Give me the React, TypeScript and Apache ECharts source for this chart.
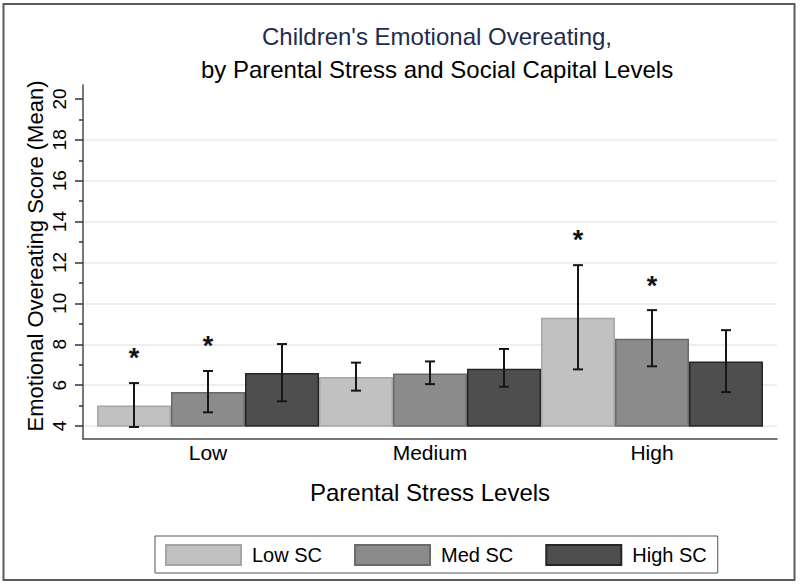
import React, { useEffect, useRef } from "react";
import * as echarts from "echarts";

const categories = ["Low", "Medium", "High"];
const seriesNames = ["Low SC", "Med SC", "High SC"];
const lowSCMean = [5.0, 6.4, 9.3];
const lowSCLower = [3.95, 5.73, 6.77];
const lowSCUpper = [6.1, 7.1, 11.87];
const medSCMean = [5.66, 6.57, 8.27];
const medSCLower = [4.67, 6.05, 6.92];
const medSCUpper = [6.69, 7.16, 9.67];
const highSCMean = [6.59, 6.8, 7.15];
const highSCLower = [5.21, 5.92, 5.66];
const highSCUpper = [8.01, 7.77, 8.69];
const lowSCStar = [7.5, null, 13.3];
const medSCStar = [8.1, null, 11.06];
const highSCStar = [null, null, null];
const yTicks = [4, 6, 8, 10, 12, 14, 16, 18, 20];

const FONT = "'Liberation Sans', Arial, Helvetica, sans-serif";
const fills = ["#c1c1c1", "#8b8b8b", "#4e4e4e"];
const borders = ["#a6a6a6", "#6a6a6a", "#262626"];

export default function App() {
  const ref = useRef<HTMLDivElement>(null);
  useEffect(() => {
    if (!ref.current) return;
    const chart = echarts.init(ref.current, null, { renderer: "svg" });
    const means = [lowSCMean, medSCMean, highSCMean];
    const lowers = [lowSCLower, medSCLower, highSCLower];
    const uppers = [lowSCUpper, medSCUpper, highSCUpper];
    const stars = [lowSCStar, medSCStar, highSCStar];

    const barSeries = seriesNames.map((name, i) => ({
      name,
      type: "bar",
      xAxisIndex: 1,
      yAxisIndex: 1,
      data: means[i],
      barGap: "0%",
      barCategoryGap: "0%",
      itemStyle: { color: fills[i], borderColor: borders[i], borderWidth: 1.5 },
      z: 3,
    }));

    const errSeries = seriesNames.map((name, i) => ({
      name: name + " CI",
      type: "custom",
      xAxisIndex: 1,
      yAxisIndex: 1,
      z: 5,
      encode: { x: 0, y: [1, 2] },
      data: categories.map((_, c) => [c, lowers[i][c], uppers[i][c], stars[i][c] == null ? NaN : stars[i][c]]),
      renderItem: (params: any, api: any) => {
        const cat = api.value(0);
        const lo = api.value(1);
        const hi = api.value(2);
        const st = api.value(3);
        const band = api.size([1, 0])[0];
        const off = ((i - 1) * band) / 3;
        const pLo = api.coord([cat, lo]);
        const pHi = api.coord([cat, hi]);
        const x = pLo[0] + off;
        const style = { stroke: "#161616", lineWidth: 2 };
        const cw = 5;
        const children: any[] = [
          { type: "line", shape: { x1: x, y1: pLo[1], x2: x, y2: pHi[1] }, style },
          { type: "line", shape: { x1: x - cw, y1: pHi[1], x2: x + cw, y2: pHi[1] }, style },
          { type: "line", shape: { x1: x - cw, y1: pLo[1], x2: x + cw, y2: pLo[1] }, style },
        ];
        if (!isNaN(st)) {
          const ps = api.coord([cat, st]);
          children.push({
            type: "text",
            x: x,
            y: ps[1] + 4,
            style: {
              text: "*",
              fontSize: 27,
              fontWeight: "bold",
              fontFamily: FONT,
              fill: "#111",
              align: "center",
              verticalAlign: "middle",
            },
          });
        }
        return { type: "group", children };
      },
    }));

    const option: any = {
      animation: false,
      backgroundColor: "#ffffff",
      textStyle: { fontFamily: FONT },
      title: [
        {
          text: "Children's Emotional Overeating,",
          left: 432,
          top: 19,
          textAlign: "center",
          textStyle: { color: "#1d2c4e", fontSize: 24, fontWeight: "normal", fontFamily: FONT },
        },
        {
          text: "by Parental Stress and Social Capital Levels",
          left: 432,
          top: 52,
          textAlign: "center",
          textStyle: { color: "#000", fontSize: 24, fontWeight: "normal", fontFamily: FONT },
        },
      ],
      legend: {
        data: seriesNames,
        left: 155,
        top: 536,
        orient: "horizontal",
        itemWidth: 75,
        itemHeight: 20,
        itemGap: 32,
        padding: [8, 11, 7, 10],
        borderColor: "#555",
        borderWidth: 1,
        icon: "rect",
        textStyle: { fontSize: 20, color: "#000", fontFamily: FONT, padding: [0, 0, 0, 6] },
      },
      grid: [
        { left: 83, right: 23, top: 85, bottom: 146 },
        { left: 97, right: 37, top: 99, bottom: 159 },
        { left: 83, right: 23, top: 99, bottom: 159 },
      ],
      xAxis: [
        {
          gridIndex: 0,
          type: "value",
          min: 0,
          max: 1,
          axisLine: { show: true, lineStyle: { color: "#4a4a4a", width: 1.5 } },
          axisTick: { show: false },
          axisLabel: { show: false },
          splitLine: { show: false },
        },
        {
          gridIndex: 1,
          type: "category",
          data: categories,
          axisLine: { show: false },
          axisTick: { show: false },
          axisLabel: { fontSize: 21, color: "#000", margin: 16, fontFamily: FONT },
          name: "Parental Stress Levels",
          nameLocation: "middle",
          nameGap: 54,
          nameTextStyle: { fontSize: 24, color: "#000", fontFamily: FONT },
        },
        { gridIndex: 2, type: "value", min: 0, max: 1, show: false },
      ],
      yAxis: [
        {
          gridIndex: 0,
          type: "value",
          min: 0,
          max: 1,
          axisLine: { show: true, lineStyle: { color: "#4a4a4a", width: 1.5 } },
          axisTick: { show: false },
          axisLabel: { show: false },
          splitLine: { show: false },
          name: "Emotional Overeating Score (Mean)",
          nameLocation: "middle",
          nameGap: 37,
          nameTextStyle: { fontSize: 22, color: "#000", fontFamily: FONT, padding: [0, 0, 0, 12] },
        },
        {
          gridIndex: 1,
          type: "value",
          min: yTicks[0],
          max: yTicks[yTicks.length - 1],
          interval: 2,
          offset: 14,
          axisLine: { show: false },
          axisTick: { show: true, length: 8, lineStyle: { color: "#333", width: 1.5 } },
          minorTick: { show: true, splitNumber: 2, length: 4, lineStyle: { color: "#333", width: 1.5 } },
          axisLabel: { rotate: 90, fontSize: 19, color: "#000", margin: 14, fontFamily: FONT },
          splitLine: { show: false },
        },
        {
          gridIndex: 2,
          type: "value",
          min: yTicks[0],
          max: yTicks[yTicks.length - 1],
          interval: 2,
          axisLine: { show: false },
          axisTick: { show: false },
          axisLabel: { show: false },
          splitLine: { show: true, showMaxLine: false, lineStyle: { color: "#e4eaee", width: 1.5 } },
        },
      ],
      graphic: [
        {
          type: "rect",
          shape: { x: 3.5, y: 4, width: 791, height: 576 },
          style: { fill: "none", stroke: "#5a5a5a", lineWidth: 2 },
          silent: true,
          z: -1,
        },
      ],
      series: [...barSeries, ...errSeries],
    };
    chart.setOption(option);
    return () => chart.dispose();
  }, []);
  return <div ref={ref} style={{ width: 800, height: 585, position: "absolute", left: 0, top: 0 }} />;
}
